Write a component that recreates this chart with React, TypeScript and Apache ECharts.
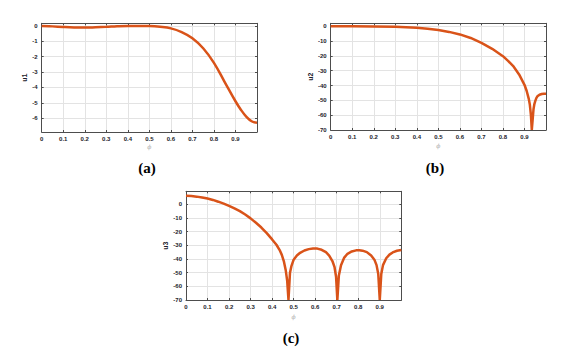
import React, { useEffect, useRef } from "react";
import * as echarts from "echarts";

// ---- data ----
const A_Y_TICKS = [-6, -5, -4, -3, -2, -1, 0];

const A_X = [0, 0.05, 0.1, 0.15, 0.2, 0.25, 0.3, 0.35, 0.4, 0.45, 0.5, 0.55, 0.6, 0.65, 0.7, 0.75, 0.8, 0.85, 0.9, 0.925, 0.95, 0.975, 1.0];
const A_Y = [0, -0.03, -0.07, -0.1, -0.11, -0.09, -0.06, -0.02, 0, 0, -0.01, -0.06, -0.16, -0.4, -0.8, -1.45, -2.4, -3.65, -4.9, -5.45, -5.9, -6.2, -6.3];

const B_X = [0, 0.1, 0.2, 0.3, 0.35, 0.4, 0.45, 0.5, 0.55, 0.6, 0.65, 0.7, 0.75, 0.8, 0.825, 0.85, 0.875, 0.9, 0.91, 0.92, 0.925, 0.93, 0.934, 0.938, 0.942, 0.946, 0.95, 0.955, 0.96, 0.97, 0.98, 0.99, 1.0];
const B_Y = [0, 0, -0.1, -0.3, -0.6, -1.0, -1.6, -2.5, -3.8, -5.5, -7.9, -11.2, -15.2, -20.2, -23.5, -27.3, -32.5, -39.5, -43.5, -49, -53, -60, -70, -63, -56, -52.5, -50.5, -48.5, -47.3, -46.2, -45.7, -45.5, -45.5];

const C_X = [0, 0.025, 0.05, 0.075, 0.1, 0.125, 0.15, 0.175, 0.2, 0.225, 0.25, 0.275, 0.3, 0.325, 0.35, 0.375, 0.4, 0.42, 0.435, 0.445, 0.455, 0.463, 0.47, 0.476, 0.483, 0.49, 0.5, 0.515, 0.53, 0.55, 0.57, 0.59, 0.61, 0.63, 0.65, 0.665, 0.68, 0.69, 0.697, 0.703, 0.71, 0.72, 0.735, 0.75, 0.77, 0.79, 0.805, 0.82, 0.84, 0.86, 0.875, 0.885, 0.893, 0.9, 0.907, 0.915, 0.93, 0.945, 0.96, 0.98, 1.0];
const C_Y = [6.2, 6.0, 5.6, 5.0, 4.2, 3.2, 1.9, 0.5, -1.2, -3.0, -5.0, -7.5, -10.3, -13.5, -17, -21.1, -25.7, -29.6, -33.5, -37, -42, -48, -56, -70, -50, -45, -40.5, -37.5, -35.5, -33.8, -32.8, -32.3, -32.4, -33.3, -35, -37.5, -41.5, -46, -53, -70, -52, -44.5, -39, -36.2, -34.5, -33.7, -33.6, -33.9, -35, -37.5, -40.5, -44.5, -51, -70, -51, -44.5, -39.5, -36.8, -35.2, -34, -33.4];

const Y_NAMES = ["u1", "u2", "u3"];
const X_NAME = "ϕ";
const CAPTIONS = ["(a)", "(b)", "(c)"];

const LINE_COLOR = "#D95319";
const FRAME = "#4d4d4d";
const GRIDC = "#e3e3e3";
const LABEL_FONT = "Liberation Sans";

function zip(xs: number[], ys: number[]) {
  return xs.map((x, i) => [x, ys[i]]);
}

export default function App() {
  const ref = useRef<HTMLDivElement>(null);
  useEffect(() => {
    if (!ref.current) return;
    const chart = echarts.init(ref.current, undefined, { renderer: "svg" });

    const grids = [
      { left: 41.7, top: 23.3, width: 215.3, height: 108.7 },
      { left: 330.7, top: 23.3, width: 215.3, height: 106.7 },
      { left: 186, top: 191.3, width: 215.3, height: 108.7 },
    ];
    const yRanges = [
      { min: -6.9, max: 0.17, ticks: A_Y_TICKS as number[] | null },
      { min: -70, max: 2, ticks: null as number[] | null },
      { min: -70, max: 9.5, ticks: null as number[] | null },
    ];
    const yNameGaps = [11, 16, 16];
    const xNameGaps = [11, 12, 13];

    const xAxis: any[] = [];
    const yAxis: any[] = [];
    grids.forEach((g, i) => {
      xAxis.push({
        type: "value",
        gridIndex: i,
        min: 0,
        max: 1,
        interval: 0.1,
        position: "bottom",
        name: X_NAME,
        nameLocation: "middle",
        nameGap: xNameGaps[i],
        nameTextStyle: { color: "#b0b0b0", fontSize: 6, fontStyle: "italic", fontFamily: "DejaVu Serif" },
        axisLine: { show: true, onZero: false, lineStyle: { color: FRAME, width: 1 } },
        axisTick: { show: true, inside: true, length: 2, lineStyle: { color: FRAME } },
        axisLabel: {
          fontSize: 6,
          fontWeight: "bold",
          color: "#1c1c2a",
          fontFamily: LABEL_FONT,
          margin: 4,
          formatter: (v: number) => (v > 0.95 ? "" : String(Math.round(v * 10) / 10)),
        },
        splitLine: { show: true, lineStyle: { color: GRIDC, width: 1 } },
      });
      xAxis.push({
        type: "value",
        gridIndex: i,
        min: 0,
        max: 1,
        interval: 0.1,
        position: "top",
        axisLine: { show: true, onZero: false, lineStyle: { color: FRAME, width: 1 } },
        axisTick: { show: true, inside: true, length: 2, lineStyle: { color: FRAME } },
        axisLabel: { show: false },
        splitLine: { show: false },
      });
      const yr = yRanges[i];
      const yMain: any = {
        type: "value",
        gridIndex: i,
        min: yr.min,
        max: yr.max,
        position: "left",
        name: Y_NAMES[i],
        nameLocation: "middle",
        nameRotate: 90,
        nameGap: yNameGaps[i],
        nameTextStyle: { color: "#1c1c2a", fontSize: 7, fontWeight: "bold", fontFamily: LABEL_FONT },
        axisLine: { show: true, onZero: false, lineStyle: { color: FRAME, width: 1 } },
        axisTick: { show: true, inside: true, length: 2, lineStyle: { color: FRAME } },
        axisLabel: {
          fontSize: 6,
          fontWeight: "bold",
          color: "#1c1c2a",
          fontFamily: LABEL_FONT,
          margin: 4,
          formatter: (v: number) => (v > 0.5 ? "" : String(v)),
        },
        splitLine: { show: true, lineStyle: { color: GRIDC, width: 1 } },
      };
      const ySide: any = {
        type: "value",
        gridIndex: i,
        min: yr.min,
        max: yr.max,
        position: "right",
        axisLine: { show: true, onZero: false, lineStyle: { color: FRAME, width: 1 } },
        axisTick: { show: true, inside: true, length: 2, lineStyle: { color: FRAME } },
        axisLabel: { show: false },
        splitLine: { show: false },
      };
      if (yr.ticks) {
        yMain.axisTick.customValues = yr.ticks;
        yMain.axisLabel.customValues = yr.ticks;
        ySide.axisTick.customValues = yr.ticks;
      } else {
        yMain.interval = 10;
        ySide.interval = 10;
      }
      yAxis.push(yMain, ySide);
    });

    const datasets = [zip(A_X, A_Y), zip(B_X, B_Y), zip(C_X, C_Y)];
    const series = datasets.map((d, i) => ({
      type: "line",
      xAxisIndex: i * 2,
      yAxisIndex: i * 2,
      data: d,
      showSymbol: false,
      smooth: i === 0 ? 0.4 : false,
      clip: true,
      lineStyle: { color: LINE_COLOR, width: 2.5 },
    }));

    const capPos = [
      [147, 160],
      [435, 160],
      [291, 330],
    ];
    const title = CAPTIONS.map((t, i) => ({
      text: t,
      left: capPos[i][0],
      top: capPos[i][1],
      textAlign: "center",
      padding: 0,
      textStyle: {
        color: "#000",
        fontFamily: "Liberation Serif",
        fontWeight: "bold",
        fontSize: 15,
      },
    }));

    chart.setOption({
      animation: false,
      backgroundColor: "#ffffff",
      title,
      grid: grids.map((g) => ({ ...g, containLabel: false })),
      xAxis,
      yAxis,
      series,
    });
    return () => chart.dispose();
  }, []);
  return (
    <div
      ref={ref}
      style={{ position: "absolute", left: 0, top: 0, width: 570, height: 349, background: "#fff" }}
    />
  );
}
